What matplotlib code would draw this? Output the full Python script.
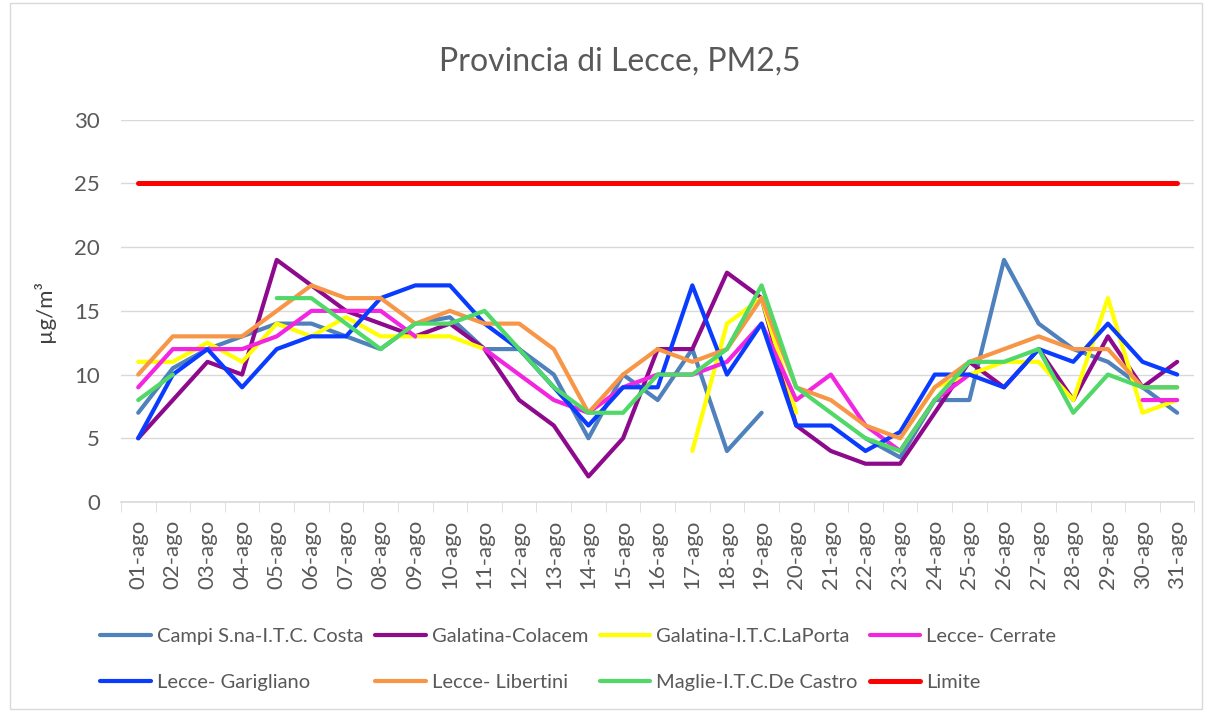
import numpy as np
import matplotlib
matplotlib.use("Agg")
import matplotlib.pyplot as plt

plt.rcParams['font.family'] = ['Lato', 'DejaVu Sans']

days = [f"{d:02d}-ago" for d in range(1, 32)]
N = None

campi = [7, 10.5, 12, 13, 14, 14, 13, 12, 14, 14.5, 12, 12, 10, 5, 10, 8, 12, 4, 7,
         N, N, 5, 3.5, 8, 8, 19, 14, 12, 11, 9, 7]
colacem = [5, 8, 11, 10, 19, 17, 15, 14, 13, 14, 12, 8, 6, 2, 5, 12, 12, 18, 16,
           6, 4, 3, 3, 7, 11, 9, 12, 8, 13, 9, 11]
laporta = [11, 11, 12.5, 11, 14, 13, 14.5, 13, 13, 13, 12, N, N, N, N, N, 4, 14, 16,
           7, N, N, 5, 9, 10, 11, 11, 8, 16, 7, 8]
cerrate = [9, 12, 12, 12, 13, 15, 15, 15, 13, N, 12, 10, 8, 7, 9, 10, 10, 11, 14,
           8, 10, 6, 4, 8, 10, N, N, N, N, 8, 8]
garigliano = [5, 10, 12, 9, 12, 13, 13, 16, 17, 17, 14, 12, 9, 6, 9, 9, 17, 10, 14,
              6, 6, 4, 5.5, 10, 10, 9, 12, 11, 14, 11, 10]
libertini = [10, 13, 13, 13, 15, 17, 16, 16, 14, 15, 14, 14, 12, 7, 10, 12, 11, 12, 16,
             9, 8, 6, 5, 9, 11, 12, 13, 12, 12, 9, 9]
maglie = [8, 10, N, N, 16, 16, 14, 12, 14, 14, 15, 12, 9, 7, 7, 10, 10, 12, 17,
          9, 7, 5, 4, 8, 11, 11, 12, 7, 10, 9, 9]
limite = [25] * 31

series = [
    ("Campi S.na-I.T.C. Costa", campi, "#4F81BD"),
    ("Galatina-Colacem", colacem, "#8E0A8C"),
    ("Galatina-I.T.C.LaPorta", laporta, "#FFFF00"),
    ("Lecce- Cerrate", cerrate, "#F225E0"),
    ("Lecce- Garigliano", garigliano, "#0A3CFF"),
    ("Lecce- Libertini", libertini, "#F79646"),
    ("Maglie-I.T.C.De Castro", maglie, "#50D868"),
    ("Limite", limite, "#FF0000"),
]

fig = plt.figure(figsize=(12.09, 7.13), dpi=100)
ax = fig.add_axes([0.1, 0.296, 0.888, 0.536])

x = np.arange(len(days))
handles = []
for name, vals, col in series:
    y = np.array([np.nan if v is None else v for v in vals], dtype=float)
    lw = 3.6 if name == "Limite" else 3.0
    h, = ax.plot(x, y, color=col, lw=lw, label=name, solid_capstyle='round')
    handles.append(h)

ax.set_xlim(-0.5, len(days) - 0.5)
ax.set_ylim(0, 30)
ax.set_yticks(range(0, 31, 5))
ax.set_xticks(x)
ax.set_xticklabels(days, rotation=90, fontsize=16, color="#595959")
ax.set_xticks(np.arange(-0.5, len(days), 1), minor=True)
ax.tick_params(axis='x', which='major', length=0, pad=13)
ax.tick_params(axis='x', which='minor', length=7, color="#D9D9D9")
ax.tick_params(axis='y', length=0, labelsize=16, labelcolor="#595959", pad=15)
ax.grid(axis='y', color="#D9D9D9", lw=1)
ax.set_axisbelow(True)
for s in ['top', 'right', 'left']:
    ax.spines[s].set_visible(False)
ax.spines['bottom'].set_color("#D9D9D9")
ax.spines['bottom'].set_linewidth(1.2)

ax.set_ylabel("µg/m³", fontsize=16, color="#404040", labelpad=14)
fig.text(0.513, 0.913, "Provincia di Lecce, PM2,5", ha='center', va='center',
         fontsize=23, color="#595959")

order = [0, 4, 1, 5, 2, 6, 3, 7]
leg = fig.legend([handles[i] for i in order], [series[i][0] for i in order],
                 ncol=4, loc='center left', bbox_to_anchor=(0.068, 0.075), frameon=False,
                 fontsize=14.5, handlelength=2.5, handletextpad=0.3, columnspacing=0.6,
                 labelspacing=1.45)
for t in leg.get_texts():
    t.set_color("#595959")

fig.patches.append(plt.Rectangle((0.008, 0.006), 0.986, 0.99, transform=fig.transFigure,
                                 fill=False, edgecolor="#D9D9D9", lw=1))

fig.savefig("out.png", dpi=100)
